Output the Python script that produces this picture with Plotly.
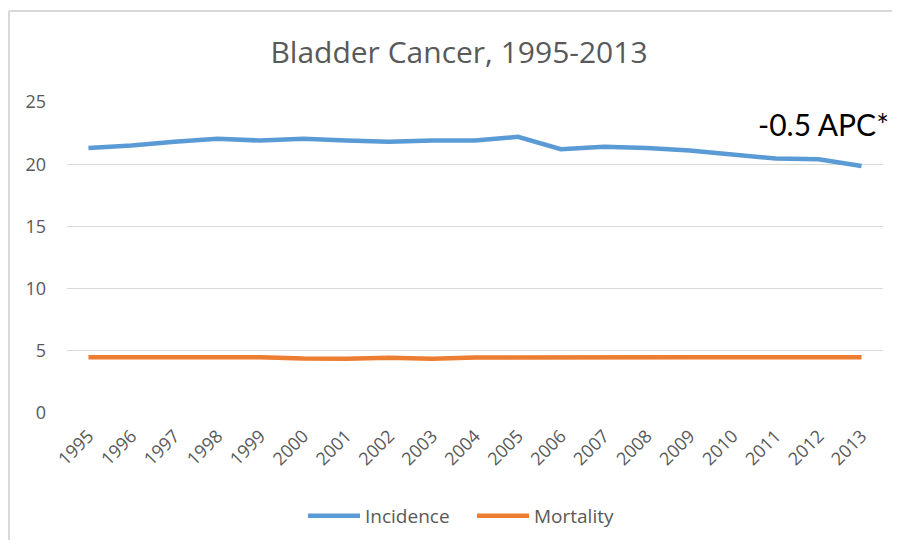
import plotly.graph_objects as go

years = [str(y) for y in range(1995, 2014)]
incidence = [21.3, 21.5, 21.8, 22.05, 21.9, 22.05, 21.9, 21.8, 21.9, 21.9,
             22.2, 21.2, 21.4, 21.3, 21.1, 20.8, 20.45, 20.4, 19.85]
mortality = [4.48, 4.48, 4.48, 4.48, 4.48, 4.38, 4.37, 4.45, 4.37, 4.46,
             4.48, 4.48, 4.48, 4.48, 4.48, 4.48, 4.48, 4.48, 4.48]
y_ticks = [0, 5, 10, 15, 20, 25]

FONT = "Open Sans, Lato, sans-serif"
GRAY = "#595959"

fig = go.Figure()
fig.add_trace(go.Scatter(x=years, y=incidence, mode="lines", name="Incidence",
                         line=dict(color="#5B9BD5", width=4.5)))
fig.add_trace(go.Scatter(x=years, y=mortality, mode="lines", name="Mortality",
                         line=dict(color="#ED7D31", width=4.5)))

OFF = 8  # page body margin
W, H = 884, 532
L, T = 59, 94
R = W - (883 - OFF)
B = H - (413 - OFF)
pw, ph = W - L - R, H - T - B

def px(x):  # page pixel -> paper
    return (x - OFF - L) / pw

def py(y):
    return (H - B - (y - OFF)) / ph

fig.update_layout(
    width=W, height=H,
    margin=dict(l=L, r=R, t=T, b=B, autoexpand=False),
    paper_bgcolor="white", plot_bgcolor="white",
    font=dict(family=FONT, color=GRAY),
    title=dict(text="Bladder Cancer, 1995-2013", xref="container",
               x=(459 - OFF) / W, xanchor="center",
               y=1 - (52 - OFF) / H, yanchor="middle",
               font=dict(size=30, color=GRAY, family=FONT)),
    xaxis=dict(type="category", range=[-0.5, 18.5], showgrid=False,
               showline=False, zeroline=False, tickangle=-45,
               tickfont=dict(size=18, color=GRAY), ticks="",
               ticklabelstandoff=8, automargin=False),
    yaxis=dict(range=[0, 25], tickvals=y_ticks, showgrid=True,
               gridcolor="#d9d9d9", gridwidth=1, zeroline=False,
               showline=False, tickfont=dict(size=18, color=GRAY),
               ticklabelstandoff=20, automargin=False),
    legend=dict(orientation="h", x=px(303), xanchor="left",
                y=py(516), yanchor="middle", entrywidth=102,
                font=dict(size=19, color=GRAY), itemwidth=52),
    showlegend=True,
)

fig.add_annotation(text="-0.5 APC*", xref="paper", yref="paper",
                   x=px(823), y=py(124), xanchor="center", yanchor="middle",
                   showarrow=False,
                   font=dict(size=30, color="black", family="Lato, sans-serif"))

# chart border (top and left edges visible)
fig.add_shape(type="line", xref="paper", yref="paper",
              x0=px(9), x1=px(OFF + W), y0=py(11), y1=py(11),
              line=dict(color="#d9d9d9", width=2))
fig.add_shape(type="line", xref="paper", yref="paper",
              x0=px(9), x1=px(9), y0=py(11), y1=py(OFF + H),
              line=dict(color="#d9d9d9", width=2))

fig.write_html("out.html", config={"displayModeBar": False})
